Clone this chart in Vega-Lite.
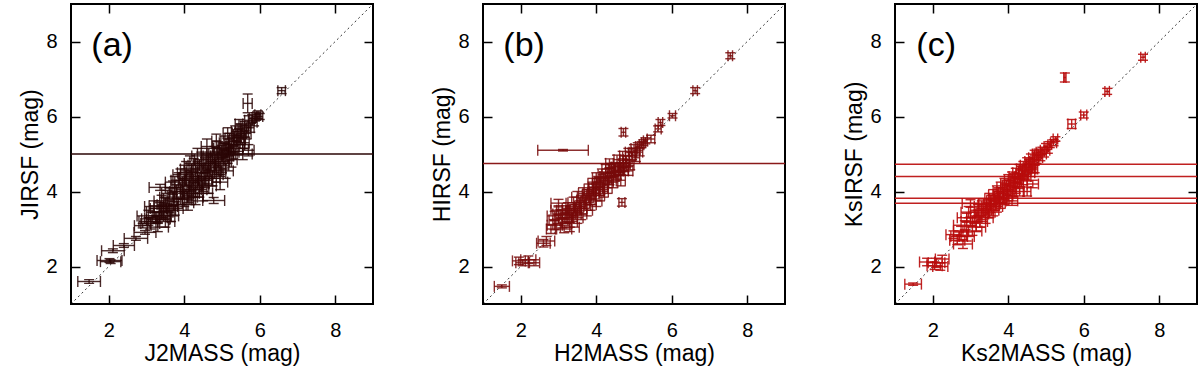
{
  "$schema": "https://vega.github.io/schema/vega-lite/v6.json",
  "background": "white",
  "padding": {"left": 18, "top": 2, "right": 2, "bottom": 0},
  "spacing": 110,
  "bounds": "flush",
  "config": {
    "view": {"stroke": "black", "strokeWidth": 2},
    "font": "Liberation Sans",
    "axis": {
      "grid": false, "domain": false, "tickSize": 9, "tickWidth": 1.5, "tickColor": "black",
      "labelFontSize": 20, "titleFontSize": 23, "labelColor": "black", "titleColor": "black",
      "titleFontWeight": "normal", "labelFont": "Liberation Sans", "titleFont": "Liberation Sans"
    },
    "axisX": {"labelPadding": 16, "titlePadding": 2},
    "axisY": {"labelPadding": 14, "titlePadding": 3}
  },
  "datasets": {
    "pa": [
      {"x":1.48,"y":1.60,"ex":0.30,"ey":0.05},{"x":2.02,"y":2.16,"ex":0.33,"ey":0.05},{"x":2.05,"y":2.13,"ex":0.27,"ey":0.05},
      {"x":2.11,"y":2.42,"ex":0.30,"ey":0.05},{"x":2.40,"y":2.56,"ex":0.28,"ey":0.05},{"x":2.72,"y":2.75,"ex":0.31,"ey":0.05},
      {"x":2.96,"y":2.91,"ex":0.29,"ey":0.05},{"x":2.90,"y":3.09,"ex":0.22,"ey":0.06},{"x":3.25,"y":3.27,"ex":0.38,"ey":0.08},
      {"x":3.36,"y":4.11,"ex":0.29,"ey":0.08},{"x":4.78,"y":3.76,"ex":0.29,"ey":0.08},{"x":3.45,"y":3.62,"ex":0.38,"ey":0.08},
      {"x":3.05,"y":3.20,"ex":0.25,"ey":0.1},{"x":3.3,"y":3.25,"ex":0.3,"ey":0.1},{"x":3.4,"y":3.35,"ex":0.25,"ey":0.1},
      {"x":3.2,"y":3.45,"ex":0.2,"ey":0.1},{"x":3.55,"y":3.5,"ex":0.22,"ey":0.1},
      {"x":3.05,"y":3.35,"ex":0.3,"ey":0.15},{"x":3.1,"y":3.15,"ex":0.25,"ey":0.15},
      {"x":3.2,"y":3.6,"ex":0.25,"ey":0.15},{"x":3.25,"y":3.3,"ex":0.3,"ey":0.15},{"x":3.3,"y":3.05,"ex":0.28,"ey":0.12},
      {"x":3.4,"y":3.75,"ex":0.2,"ey":0.15},{"x":3.45,"y":3.45,"ex":0.25,"ey":0.15},{"x":3.5,"y":3.2,"ex":0.25,"ey":0.15},
      {"x":3.6,"y":3.95,"ex":0.2,"ey":0.15},{"x":3.6,"y":3.6,"ex":0.22,"ey":0.15},{"x":3.65,"y":3.35,"ex":0.2,"ey":0.15},{"x":3.7,"y":3.8,"ex":0.25,"ey":0.18},
      {"x":3.75,"y":4.25,"ex":0.25,"ey":0.15},{"x":3.8,"y":4.0,"ex":0.18,"ey":0.18},{"x":3.85,"y":3.65,"ex":0.2,"ey":0.15},{"x":3.9,"y":4.45,"ex":0.2,"ey":0.15},{"x":3.9,"y":3.85,"ex":0.18,"ey":0.2},
      {"x":3.95,"y":4.15,"ex":0.2,"ey":0.2},{"x":4.0,"y":3.8,"ex":0.2,"ey":0.2},{"x":4.05,"y":4.35,"ex":0.18,"ey":0.2},{"x":4.05,"y":4.6,"ex":0.15,"ey":0.2},{"x":4.1,"y":4.0,"ex":0.2,"ey":0.2},{"x":4.1,"y":3.7,"ex":0.15,"ey":0.2},
      {"x":4.15,"y":4.25,"ex":0.2,"ey":0.2},{"x":4.2,"y":4.5,"ex":0.15,"ey":0.2},{"x":4.2,"y":3.95,"ex":0.2,"ey":0.2},{"x":4.25,"y":4.7,"ex":0.15,"ey":0.18},{"x":4.3,"y":4.15,"ex":0.18,"ey":0.2},{"x":4.3,"y":4.4,"ex":0.15,"ey":0.2},{"x":4.3,"y":3.85,"ex":0.2,"ey":0.2},
      {"x":4.35,"y":4.6,"ex":0.15,"ey":0.2},{"x":4.4,"y":4.3,"ex":0.15,"ey":0.2},{"x":4.4,"y":4.05,"ex":0.2,"ey":0.2},{"x":4.45,"y":4.85,"ex":0.18,"ey":0.2},{"x":4.5,"y":4.5,"ex":0.15,"ey":0.2},{"x":4.5,"y":4.2,"ex":0.15,"ey":0.2},{"x":4.5,"y":3.95,"ex":0.25,"ey":0.2},
      {"x":4.55,"y":4.7,"ex":0.15,"ey":0.2},{"x":4.6,"y":4.4,"ex":0.15,"ey":0.2},{"x":4.6,"y":4.95,"ex":0.15,"ey":0.2},{"x":4.65,"y":4.15,"ex":0.2,"ey":0.2},{"x":4.7,"y":4.6,"ex":0.15,"ey":0.2},{"x":4.7,"y":4.85,"ex":0.12,"ey":0.2},{"x":4.75,"y":4.35,"ex":0.2,"ey":0.2},
      {"x":4.8,"y":5.0,"ex":0.15,"ey":0.2},{"x":4.8,"y":4.7,"ex":0.15,"ey":0.2},{"x":4.85,"y":4.45,"ex":0.18,"ey":0.2},{"x":4.9,"y":5.15,"ex":0.12,"ey":0.18},{"x":4.9,"y":4.85,"ex":0.15,"ey":0.2},{"x":4.95,"y":4.6,"ex":0.15,"ey":0.2},{"x":4.95,"y":4.25,"ex":0.2,"ey":0.2},
      {"x":5.0,"y":5.05,"ex":0.12,"ey":0.18},{"x":5.05,"y":5.3,"ex":0.12,"ey":0.18},{"x":5.05,"y":4.8,"ex":0.15,"ey":0.2},{"x":5.1,"y":4.55,"ex":0.2,"ey":0.2},{"x":5.1,"y":5.1,"ex":0.12,"ey":0.18},{"x":5.15,"y":4.95,"ex":0.15,"ey":0.2},
      {"x":5.2,"y":5.4,"ex":0.12,"ey":0.15},{"x":5.2,"y":5.15,"ex":0.12,"ey":0.18},{"x":5.25,"y":4.85,"ex":0.15,"ey":0.2},{"x":5.3,"y":5.35,"ex":0.12,"ey":0.15},{"x":5.3,"y":5.05,"ex":0.15,"ey":0.18},{"x":5.35,"y":5.6,"ex":0.1,"ey":0.15},
      {"x":5.4,"y":5.5,"ex":0.1,"ey":0.15},{"x":5.45,"y":5.25,"ex":0.15,"ey":0.18},{"x":5.5,"y":5.65,"ex":0.1,"ey":0.15},{"x":5.5,"y":5.4,"ex":0.12,"ey":0.15},{"x":5.55,"y":5.0,"ex":0.25,"ey":0.15},
      {"x":5.6,"y":5.75,"ex":0.1,"ey":0.12},{"x":5.65,"y":5.55,"ex":0.12,"ey":0.15},{"x":5.7,"y":5.9,"ex":0.1,"ey":0.12},{"x":5.7,"y":5.1,"ex":0.15,"ey":0.15},{"x":5.75,"y":5.7,"ex":0.1,"ey":0.12},
      {"x":5.8,"y":5.95,"ex":0.08,"ey":0.1},{"x":5.85,"y":5.85,"ex":0.08,"ey":0.1},{"x":5.9,"y":6.0,"ex":0.08,"ey":0.1},{"x":5.95,"y":6.05,"ex":0.08,"ey":0.1},{"x":6.0,"y":6.0,"ex":0.08,"ey":0.08},
      {"x":5.68,"y":6.35,"ex":0.12,"ey":0.25},{"x":6.58,"y":6.69,"ex":0.1,"ey":0.08},
      {"x":3.55,"y":3.85,"ex":0.2,"ey":0.18},{"x":3.7,"y":4.1,"ex":0.2,"ey":0.18},{"x":3.85,"y":4.3,"ex":0.2,"ey":0.2},{"x":4.0,"y":4.5,"ex":0.18,"ey":0.2},{"x":4.15,"y":4.75,"ex":0.15,"ey":0.2},
      {"x":4.35,"y":4.95,"ex":0.15,"ey":0.2},{"x":4.6,"y":5.2,"ex":0.15,"ey":0.2},{"x":4.85,"y":5.35,"ex":0.12,"ey":0.18},{"x":5.15,"y":5.55,"ex":0.12,"ey":0.15},{"x":5.45,"y":5.8,"ex":0.1,"ey":0.12},
      {"x":3.95,"y":4.0,"ex":0.2,"ey":0.2},{"x":4.2,"y":4.3,"ex":0.18,"ey":0.2},{"x":4.45,"y":4.55,"ex":0.15,"ey":0.2},{"x":4.65,"y":4.75,"ex":0.15,"ey":0.2},{"x":4.85,"y":4.95,"ex":0.15,"ey":0.2},
      {"x":5.05,"y":5.1,"ex":0.12,"ey":0.18},{"x":5.25,"y":5.25,"ex":0.12,"ey":0.18},{"x":5.45,"y":5.45,"ex":0.12,"ey":0.15},{"x":5.6,"y":5.6,"ex":0.1,"ey":0.15},
      {"x":4.25,"y":4.05,"ex":0.2,"ey":0.2},{"x":4.55,"y":4.3,"ex":0.18,"ey":0.2},{"x":4.8,"y":4.55,"ex":0.18,"ey":0.2},{"x":5.0,"y":4.7,"ex":0.18,"ey":0.2},{"x":5.2,"y":5.0,"ex":0.15,"ey":0.18},
      {"x":5.4,"y":5.15,"ex":0.15,"ey":0.18},{"x":5.6,"y":5.3,"ex":0.12,"ey":0.15},
      {"x":3.75,"y":3.55,"ex":0.22,"ey":0.18},{"x":3.35,"y":3.55,"ex":0.25,"ey":0.15},{"x":3.5,"y":3.65,"ex":0.22,"ey":0.18},{"x":4.15,"y":3.85,"ex":0.2,"ey":0.2}
    ],
    "pb": [
      {"x":1.5,"y":1.47,"ex":0.2,"ey":0.04},{"x":1.95,"y":2.15,"ex":0.17,"ey":0.1},{"x":2.2,"y":2.18,"ex":0.2,"ey":0.1},{"x":2.35,"y":2.1,"ex":0.15,"ey":0.08},{"x":2.05,"y":2.1,"ex":0.18,"ey":0.08},
      {"x":2.68,"y":2.68,"ex":0.22,"ey":0.12},{"x":2.6,"y":2.62,"ex":0.18,"ey":0.1},{"x":2.8,"y":3.0,"ex":0.12,"ey":0.12},
      {"x":3.0,"y":3.69,"ex":0.2,"ey":0.1},{"x":3.2,"y":3.5,"ex":0.25,"ey":0.12},{"x":2.9,"y":3.35,"ex":0.2,"ey":0.12},{"x":3.3,"y":3.05,"ex":0.25,"ey":0.12},
      {"x":4.68,"y":3.71,"ex":0.08,"ey":0.1},{"x":4.72,"y":5.58,"ex":0.06,"ey":0.1},{"x":3.12,"y":5.1,"ex":0.67,"ey":0.02},
      {"x":2.9,"y":3.1,"ex":0.2,"ey":0.12},{"x":3.0,"y":3.25,"ex":0.25,"ey":0.12},{"x":3.05,"y":3.4,"ex":0.2,"ey":0.12},{"x":3.1,"y":3.15,"ex":0.25,"ey":0.12},{"x":3.15,"y":3.0,"ex":0.2,"ey":0.1},
      {"x":3.2,"y":3.3,"ex":0.2,"ey":0.15},{"x":3.25,"y":3.55,"ex":0.15,"ey":0.15},{"x":3.3,"y":3.2,"ex":0.2,"ey":0.15},{"x":3.35,"y":3.4,"ex":0.15,"ey":0.15},{"x":3.4,"y":3.7,"ex":0.15,"ey":0.15},
      {"x":3.45,"y":3.5,"ex":0.15,"ey":0.15},{"x":3.5,"y":3.3,"ex":0.15,"ey":0.15},{"x":3.5,"y":3.85,"ex":0.15,"ey":0.15},{"x":3.55,"y":3.6,"ex":0.12,"ey":0.15},{"x":3.6,"y":3.4,"ex":0.15,"ey":0.15},
      {"x":3.65,"y":3.95,"ex":0.12,"ey":0.15},{"x":3.7,"y":3.7,"ex":0.12,"ey":0.15},{"x":3.75,"y":3.5,"ex":0.15,"ey":0.15},{"x":3.8,"y":4.05,"ex":0.12,"ey":0.15},{"x":3.8,"y":3.85,"ex":0.12,"ey":0.15},
      {"x":3.85,"y":3.65,"ex":0.15,"ey":0.15},{"x":3.9,"y":4.2,"ex":0.12,"ey":0.15},{"x":3.95,"y":3.95,"ex":0.12,"ey":0.15},{"x":4.0,"y":3.75,"ex":0.15,"ey":0.15},{"x":4.0,"y":4.35,"ex":0.1,"ey":0.15},
      {"x":4.05,"y":4.1,"ex":0.12,"ey":0.15},{"x":4.1,"y":3.9,"ex":0.12,"ey":0.15},{"x":4.15,"y":4.45,"ex":0.1,"ey":0.15},{"x":4.2,"y":4.2,"ex":0.1,"ey":0.15},{"x":4.2,"y":4.0,"ex":0.12,"ey":0.15},
      {"x":4.25,"y":4.6,"ex":0.1,"ey":0.12},{"x":4.3,"y":4.35,"ex":0.1,"ey":0.15},{"x":4.3,"y":4.1,"ex":0.12,"ey":0.15},{"x":4.35,"y":4.75,"ex":0.1,"ey":0.12},{"x":4.4,"y":4.5,"ex":0.1,"ey":0.12},
      {"x":4.45,"y":4.25,"ex":0.12,"ey":0.15},{"x":4.5,"y":4.65,"ex":0.1,"ey":0.12},{"x":4.5,"y":4.4,"ex":0.1,"ey":0.12},{"x":4.55,"y":4.85,"ex":0.08,"ey":0.12},{"x":4.6,"y":4.55,"ex":0.1,"ey":0.12},
      {"x":4.65,"y":4.3,"ex":0.12,"ey":0.15},{"x":4.7,"y":4.75,"ex":0.08,"ey":0.12},{"x":4.7,"y":4.95,"ex":0.08,"ey":0.12},{"x":4.75,"y":4.55,"ex":0.1,"ey":0.12},{"x":4.8,"y":4.85,"ex":0.08,"ey":0.1},
      {"x":4.85,"y":5.05,"ex":0.08,"ey":0.1},{"x":4.9,"y":4.7,"ex":0.1,"ey":0.12},{"x":4.95,"y":4.95,"ex":0.08,"ey":0.1},{"x":5.0,"y":5.15,"ex":0.08,"ey":0.1},{"x":5.05,"y":4.9,"ex":0.1,"ey":0.1},
      {"x":5.1,"y":5.2,"ex":0.06,"ey":0.1},{"x":5.15,"y":5.05,"ex":0.08,"ey":0.1},{"x":5.2,"y":5.25,"ex":0.06,"ey":0.08},{"x":5.25,"y":5.3,"ex":0.05,"ey":0.08},{"x":5.3,"y":5.35,"ex":0.05,"ey":0.08},
      {"x":4.85,"y":4.55,"ex":0.12,"ey":0.12},{"x":4.6,"y":4.6,"ex":0.12,"ey":0.1},{"x":4.4,"y":4.6,"ex":0.08,"ey":0.12},{"x":4.1,"y":4.25,"ex":0.1,"ey":0.12},{"x":3.9,"y":4.0,"ex":0.1,"ey":0.12},
      {"x":5.45,"y":5.4,"ex":0.1,"ey":0.1},{"x":5.64,"y":5.67,"ex":0.08,"ey":0.08},{"x":5.7,"y":5.84,"ex":0.06,"ey":0.08},{"x":6.02,"y":6.02,"ex":0.08,"ey":0.06},{"x":6.62,"y":6.69,"ex":0.06,"ey":0.08},{"x":7.55,"y":7.62,"ex":0.06,"ey":0.08},
      {"x":3.6,"y":3.75,"ex":0.12,"ey":0.15},{"x":3.75,"y":3.9,"ex":0.12,"ey":0.15},{"x":3.9,"y":4.1,"ex":0.1,"ey":0.15},{"x":4.05,"y":4.25,"ex":0.1,"ey":0.15},{"x":4.2,"y":4.4,"ex":0.1,"ey":0.12},
      {"x":4.35,"y":4.5,"ex":0.1,"ey":0.12},{"x":4.5,"y":4.55,"ex":0.1,"ey":0.12},{"x":4.65,"y":4.65,"ex":0.08,"ey":0.12},{"x":4.8,"y":4.75,"ex":0.08,"ey":0.1},{"x":4.95,"y":5.05,"ex":0.08,"ey":0.1},
      {"x":3.4,"y":3.5,"ex":0.15,"ey":0.15},{"x":3.6,"y":3.55,"ex":0.15,"ey":0.15},{"x":3.85,"y":3.8,"ex":0.12,"ey":0.15},{"x":4.1,"y":4.05,"ex":0.12,"ey":0.15},{"x":4.35,"y":4.3,"ex":0.1,"ey":0.12},
      {"x":4.55,"y":4.45,"ex":0.1,"ey":0.12},{"x":4.75,"y":4.65,"ex":0.1,"ey":0.12},{"x":3.3,"y":3.45,"ex":0.2,"ey":0.15},{"x":3.15,"y":3.3,"ex":0.22,"ey":0.12},{"x":3.0,"y":3.5,"ex":0.2,"ey":0.12}
    ],
    "pc": [
      {"x":1.48,"y":1.53,"ex":0.22,"ey":0.03},{"x":1.85,"y":2.12,"ex":0.2,"ey":0.1},{"x":2.1,"y":2.1,"ex":0.22,"ey":0.12},{"x":2.25,"y":2.2,"ex":0.18,"ey":0.1},{"x":2.05,"y":2.02,"ex":0.2,"ey":0.1},{"x":2.2,"y":2.0,"ex":0.2,"ey":0.1},
      {"x":2.65,"y":2.7,"ex":0.2,"ey":0.12},{"x":2.8,"y":2.6,"ex":0.25,"ey":0.12},{"x":2.55,"y":2.85,"ex":0.2,"ey":0.1},{"x":2.9,"y":2.8,"ex":0.2,"ey":0.12},
      {"x":2.9,"y":3.3,"ex":0.25,"ey":0.12},{"x":2.85,"y":3.1,"ex":0.3,"ey":0.12},{"x":3.0,"y":3.68,"ex":0.22,"ey":0.1},{"x":2.75,"y":2.95,"ex":0.2,"ey":0.12},{"x":3.05,"y":2.95,"ex":0.25,"ey":0.12},{"x":2.95,"y":3.45,"ex":0.2,"ey":0.15},
      {"x":3.1,"y":3.3,"ex":0.2,"ey":0.15},{"x":3.15,"y":3.05,"ex":0.25,"ey":0.12},{"x":3.2,"y":3.5,"ex":0.2,"ey":0.15},{"x":3.25,"y":3.2,"ex":0.2,"ey":0.15},{"x":3.3,"y":3.4,"ex":0.18,"ey":0.15},
      {"x":3.35,"y":3.65,"ex":0.15,"ey":0.15},{"x":3.4,"y":3.3,"ex":0.2,"ey":0.15},{"x":3.45,"y":3.55,"ex":0.15,"ey":0.15},{"x":3.5,"y":3.8,"ex":0.12,"ey":0.15},{"x":3.5,"y":3.45,"ex":0.15,"ey":0.15},
      {"x":3.55,"y":3.65,"ex":0.12,"ey":0.15},{"x":3.6,"y":3.9,"ex":0.12,"ey":0.15},{"x":3.6,"y":3.5,"ex":0.15,"ey":0.15},{"x":3.65,"y":3.75,"ex":0.12,"ey":0.15},{"x":3.7,"y":4.0,"ex":0.1,"ey":0.15},
      {"x":3.7,"y":3.6,"ex":0.15,"ey":0.15},{"x":3.75,"y":3.85,"ex":0.12,"ey":0.15},{"x":3.8,"y":4.1,"ex":0.1,"ey":0.15},{"x":3.8,"y":3.7,"ex":0.12,"ey":0.15},{"x":3.85,"y":3.95,"ex":0.1,"ey":0.15},
      {"x":3.9,"y":4.2,"ex":0.1,"ey":0.15},{"x":3.9,"y":3.8,"ex":0.12,"ey":0.15},{"x":3.95,"y":4.05,"ex":0.1,"ey":0.15},{"x":4.0,"y":4.3,"ex":0.1,"ey":0.15},{"x":4.0,"y":3.9,"ex":0.12,"ey":0.15},
      {"x":4.05,"y":4.15,"ex":0.1,"ey":0.15},{"x":4.1,"y":4.4,"ex":0.08,"ey":0.12},{"x":4.1,"y":4.0,"ex":0.12,"ey":0.15},{"x":4.15,"y":4.25,"ex":0.1,"ey":0.15},{"x":4.2,"y":4.5,"ex":0.08,"ey":0.12},
      {"x":4.2,"y":4.1,"ex":0.1,"ey":0.15},{"x":4.25,"y":4.35,"ex":0.08,"ey":0.12},{"x":4.3,"y":4.6,"ex":0.08,"ey":0.12},{"x":4.3,"y":4.2,"ex":0.1,"ey":0.12},{"x":4.35,"y":4.45,"ex":0.08,"ey":0.12},
      {"x":4.4,"y":4.7,"ex":0.08,"ey":0.1},{"x":4.4,"y":4.3,"ex":0.1,"ey":0.12},{"x":4.45,"y":4.55,"ex":0.08,"ey":0.1},{"x":4.5,"y":4.8,"ex":0.06,"ey":0.1},{"x":4.5,"y":4.4,"ex":0.1,"ey":0.12},
      {"x":4.55,"y":4.65,"ex":0.08,"ey":0.1},{"x":4.6,"y":4.9,"ex":0.06,"ey":0.1},{"x":4.6,"y":4.5,"ex":0.1,"ey":0.1},{"x":4.65,"y":4.75,"ex":0.06,"ey":0.1},{"x":4.7,"y":5.0,"ex":0.06,"ey":0.1},
      {"x":4.7,"y":4.6,"ex":0.08,"ey":0.1},{"x":4.75,"y":4.85,"ex":0.06,"ey":0.1},{"x":4.8,"y":5.05,"ex":0.06,"ey":0.08},{"x":4.85,"y":4.9,"ex":0.06,"ey":0.08},{"x":4.9,"y":5.1,"ex":0.05,"ey":0.08},
      {"x":4.95,"y":5.0,"ex":0.06,"ey":0.08},{"x":5.0,"y":5.2,"ex":0.05,"ey":0.08},{"x":5.05,"y":5.1,"ex":0.05,"ey":0.08},{"x":5.1,"y":5.25,"ex":0.05,"ey":0.08},{"x":5.2,"y":5.3,"ex":0.08,"ey":0.08},{"x":5.25,"y":5.4,"ex":0.06,"ey":0.06},
      {"x":4.65,"y":4.2,"ex":0.15,"ey":0.1},{"x":4.5,"y":4.0,"ex":0.1,"ey":0.12},{"x":4.3,"y":4.0,"ex":0.12,"ey":0.12},{"x":4.1,"y":3.75,"ex":0.15,"ey":0.12},
      {"x":5.5,"y":7.04,"ex":0.03,"ey":0.12},{"x":5.68,"y":5.8,"ex":0.1,"ey":0.12},{"x":6.0,"y":6.04,"ex":0.08,"ey":0.08},{"x":6.62,"y":6.67,"ex":0.06,"ey":0.08},{"x":7.57,"y":7.58,"ex":0.06,"ey":0.08},
      {"x":3.55,"y":3.75,"ex":0.12,"ey":0.15},{"x":3.75,"y":3.95,"ex":0.1,"ey":0.15},{"x":3.95,"y":4.15,"ex":0.1,"ey":0.15},{"x":4.15,"y":4.35,"ex":0.1,"ey":0.12},{"x":4.35,"y":4.55,"ex":0.08,"ey":0.12},
      {"x":4.55,"y":4.75,"ex":0.08,"ey":0.1},{"x":4.75,"y":4.95,"ex":0.06,"ey":0.1},{"x":3.4,"y":3.5,"ex":0.15,"ey":0.15},{"x":3.65,"y":3.65,"ex":0.12,"ey":0.15},{"x":3.85,"y":3.85,"ex":0.12,"ey":0.15},
      {"x":4.05,"y":4.05,"ex":0.1,"ey":0.15},{"x":4.25,"y":4.25,"ex":0.1,"ey":0.12},{"x":4.45,"y":4.45,"ex":0.08,"ey":0.12},{"x":4.65,"y":4.6,"ex":0.08,"ey":0.1},
      {"x":3.2,"y":3.35,"ex":0.2,"ey":0.15},{"x":3.0,"y":3.2,"ex":0.25,"ey":0.12},{"x":3.3,"y":3.6,"ex":0.2,"ey":0.15},{"x":2.7,"y":2.8,"ex":0.22,"ey":0.12}
    ]
  },
  "hconcat": [
    {
      "width": 302, "height": 300,
      "data": {"name": "pa"},
      "layer": [
        {"data": {"values": [{}]}, "mark": {"type": "rule", "strokeDash": [2, 3], "color": "black", "strokeWidth": 0.8},
         "encoding": {
           "x": {"datum": 1, "type": "quantitative", "scale": {"domain": [1, 9], "nice": false, "zero": false}, "axis": {"orient": "top", "labels": false, "title": null, "offset": -9, "values": [2, 4, 6, 8]}},
           "y": {"datum": 1, "type": "quantitative", "scale": {"domain": [1, 9], "nice": false, "zero": false}, "axis": {"orient": "right", "labels": false, "title": null, "offset": -9, "values": [2, 4, 6, 8]}},
           "x2": {"datum": 9}, "y2": {"datum": 9}}},
        {"data": {"values": [{"yl": 5.0}]}, "mark": {"type": "rule", "color": "#2a0606", "strokeWidth": 1.5},
         "encoding": {"y": {"field": "yl", "type": "quantitative", "axis": null}}},
        {"mark": {"type": "errorbar", "color": "#2a0606", "ticks": {"size": 11, "thickness": 1.4, "opacity": 0.85}, "rule": {"strokeWidth": 1.4, "opacity": 0.85}},
         "encoding": {
           "x": {"field": "x", "type": "quantitative", "axis": {"orient": "bottom", "title": "J2MASS (mag)", "ticks": false, "values": [2, 4, 6, 8]}},
           "xError": {"field": "ex"},
           "y": {"field": "y", "type": "quantitative", "axis": {"orient": "left", "title": "JIRSF (mag)", "ticks": false, "values": [2, 4, 6, 8]}}}},
        {"mark": {"type": "errorbar", "color": "#2a0606", "ticks": {"size": 10, "thickness": 1.4, "opacity": 0.85}, "rule": {"strokeWidth": 1.4, "opacity": 0.85}},
         "encoding": {
           "y": {"field": "y", "type": "quantitative", "axis": null},
           "yError": {"field": "ey"},
           "x": {"field": "x", "type": "quantitative", "axis": null}}},
        {"data": {"values": [{"t": "(a)"}]}, "mark": {"type": "text", "fontSize": 34, "font": "Liberation Sans", "color": "black", "align": "center", "baseline": "middle"},
         "encoding": {
           "x": {"datum": 2.09, "type": "quantitative", "axis": {"orient": "bottom", "labels": false, "title": null, "offset": -9, "values": [2, 4, 6, 8]}},
           "y": {"datum": 7.88, "type": "quantitative", "axis": {"orient": "left", "labels": false, "title": null, "offset": -9, "values": [2, 4, 6, 8]}},
           "text": {"field": "t"}}}
      ],
      "resolve": {"axis": {"x": "independent", "y": "independent"}}
    },
    {
      "width": 302, "height": 300,
      "data": {"name": "pb"},
      "layer": [
        {"data": {"values": [{}]}, "mark": {"type": "rule", "strokeDash": [2, 3], "color": "black", "strokeWidth": 0.8},
         "encoding": {
           "x": {"datum": 1, "type": "quantitative", "scale": {"domain": [1, 9], "nice": false, "zero": false}, "axis": {"orient": "top", "labels": false, "title": null, "offset": -9, "values": [2, 4, 6, 8]}},
           "y": {"datum": 1, "type": "quantitative", "scale": {"domain": [1, 9], "nice": false, "zero": false}, "axis": {"orient": "right", "labels": false, "title": null, "offset": -9, "values": [2, 4, 6, 8]}},
           "x2": {"datum": 9}, "y2": {"datum": 9}}},
        {"data": {"values": [{"yl": 4.75}]}, "mark": {"type": "rule", "color": "#8a1a1a", "strokeWidth": 1.5},
         "encoding": {"y": {"field": "yl", "type": "quantitative", "axis": null}}},
        {"mark": {"type": "errorbar", "color": "#780a0a", "ticks": {"size": 11, "thickness": 1.4, "opacity": 0.85}, "rule": {"strokeWidth": 1.4, "opacity": 0.85}},
         "encoding": {
           "x": {"field": "x", "type": "quantitative", "axis": {"orient": "bottom", "title": "H2MASS (mag)", "ticks": false, "values": [2, 4, 6, 8]}},
           "xError": {"field": "ex"},
           "y": {"field": "y", "type": "quantitative", "axis": {"orient": "left", "title": "HIRSF (mag)", "ticks": false, "values": [2, 4, 6, 8]}}}},
        {"mark": {"type": "errorbar", "color": "#780a0a", "ticks": {"size": 10, "thickness": 1.4, "opacity": 0.85}, "rule": {"strokeWidth": 1.4, "opacity": 0.85}},
         "encoding": {
           "y": {"field": "y", "type": "quantitative", "axis": null},
           "yError": {"field": "ey"},
           "x": {"field": "x", "type": "quantitative", "axis": null}}},
        {"data": {"values": [{"t": "(b)"}]}, "mark": {"type": "text", "fontSize": 34, "font": "Liberation Sans", "color": "black", "align": "center", "baseline": "middle"},
         "encoding": {
           "x": {"datum": 2.09, "type": "quantitative", "axis": {"orient": "bottom", "labels": false, "title": null, "offset": -9, "values": [2, 4, 6, 8]}},
           "y": {"datum": 7.88, "type": "quantitative", "axis": {"orient": "left", "labels": false, "title": null, "offset": -9, "values": [2, 4, 6, 8]}},
           "text": {"field": "t"}}}
      ],
      "resolve": {"axis": {"x": "independent", "y": "independent"}}
    },
    {
      "width": 302, "height": 300,
      "data": {"name": "pc"},
      "layer": [
        {"data": {"values": [{}]}, "mark": {"type": "rule", "strokeDash": [2, 3], "color": "black", "strokeWidth": 0.8},
         "encoding": {
           "x": {"datum": 1, "type": "quantitative", "scale": {"domain": [1, 9], "nice": false, "zero": false}, "axis": {"orient": "top", "labels": false, "title": null, "offset": -9, "values": [2, 4, 6, 8]}},
           "y": {"datum": 1, "type": "quantitative", "scale": {"domain": [1, 9], "nice": false, "zero": false}, "axis": {"orient": "right", "labels": false, "title": null, "offset": -9, "values": [2, 4, 6, 8]}},
           "x2": {"datum": 9}, "y2": {"datum": 9}}},
        {"data": {"values": [{"yl": 4.73}, {"yl": 4.4}, {"yl": 3.82}, {"yl": 3.69}]}, "mark": {"type": "rule", "color": "#c02020", "strokeWidth": 1.5},
         "encoding": {"y": {"field": "yl", "type": "quantitative", "axis": null}}},
        {"mark": {"type": "errorbar", "color": "#b80c0c", "ticks": {"size": 11, "thickness": 1.4, "opacity": 0.9}, "rule": {"strokeWidth": 1.4, "opacity": 0.9}},
         "encoding": {
           "x": {"field": "x", "type": "quantitative", "axis": {"orient": "bottom", "title": "Ks2MASS (mag)", "ticks": false, "values": [2, 4, 6, 8]}},
           "xError": {"field": "ex"},
           "y": {"field": "y", "type": "quantitative", "axis": {"orient": "left", "title": "KsIRSF (mag)", "ticks": false, "values": [2, 4, 6, 8]}}}},
        {"mark": {"type": "errorbar", "color": "#b80c0c", "ticks": {"size": 10, "thickness": 1.4, "opacity": 0.9}, "rule": {"strokeWidth": 1.4, "opacity": 0.9}},
         "encoding": {
           "y": {"field": "y", "type": "quantitative", "axis": null},
           "yError": {"field": "ey"},
           "x": {"field": "x", "type": "quantitative", "axis": null}}},
        {"data": {"values": [{"t": "(c)"}]}, "mark": {"type": "text", "fontSize": 34, "font": "Liberation Sans", "color": "black", "align": "center", "baseline": "middle"},
         "encoding": {
           "x": {"datum": 2.09, "type": "quantitative", "axis": {"orient": "bottom", "labels": false, "title": null, "offset": -9, "values": [2, 4, 6, 8]}},
           "y": {"datum": 7.88, "type": "quantitative", "axis": {"orient": "left", "labels": false, "title": null, "offset": -9, "values": [2, 4, 6, 8]}},
           "text": {"field": "t"}}}
      ],
      "resolve": {"axis": {"x": "independent", "y": "independent"}}
    }
  ]
}
